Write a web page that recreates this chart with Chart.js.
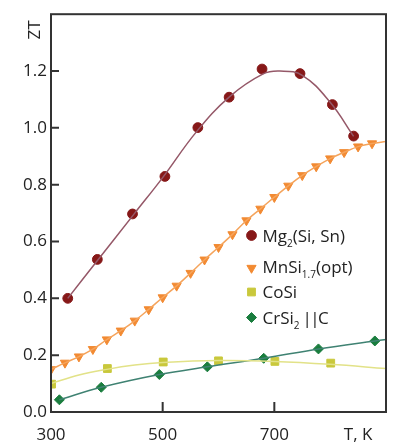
<!DOCTYPE html>
<html>
<head>
<meta charset="utf-8">
<script src="https://cdn.jsdelivr.net/npm/chart.js@4.4.1/dist/chart.umd.min.js"></script>
<style>
html, body { margin: 0; padding: 0; background: #fff; }
#wrap { width: 400px; height: 448px; }
</style>
</head>
<body>
<div id="wrap"><canvas id="zt-chart"></canvas></div>
<script>
// Mg2(Si, Sn): measured points and the fitted curve
const mgT = [330, 383, 446, 504, 563, 619, 678, 746, 804, 842];
const mgZT = [0.40, 0.537, 0.697, 0.829, 1.001, 1.108, 1.207, 1.191, 1.082, 0.971];
const mgFitT = [330, 380, 450, 500, 560, 620, 680, 710, 750, 800, 842];
const mgFitZT = [0.40, 0.525, 0.70, 0.825, 0.985, 1.11, 1.19, 1.20, 1.185, 1.09, 0.97];

// MnSi1.7 (opt)
const mnT = [300, 325, 350, 375, 400, 425, 450, 475, 500, 525, 550, 575,
             600, 625, 650, 675, 700, 725, 750, 775, 800, 825, 850, 875];
const mnZT = [0.150, 0.173, 0.195, 0.221, 0.255, 0.286, 0.321, 0.361, 0.403, 0.444, 0.489, 0.536,
              0.580, 0.625, 0.674, 0.715, 0.756, 0.796, 0.833, 0.864, 0.892, 0.914, 0.934, 0.945];
const mnFitT = mnT.concat([900]);
const mnFitZT = mnZT.concat([0.952]);

// CoSi
const coT = [301, 401, 501, 600, 701, 801];
const coZT = [0.098, 0.153, 0.176, 0.180, 0.178, 0.172];
const coFitT = [300, 350, 400, 450, 500, 600, 700, 800, 900];
const coFitZT = [0.100, 0.130, 0.150, 0.165, 0.174, 0.181, 0.178, 0.168, 0.153];

// CrSi2 ||C
const crT = [315, 390, 494, 580, 681, 779, 880];
const crZT = [0.043, 0.087, 0.132, 0.159, 0.189, 0.222, 0.250];
const crFitT = crT.concat([900]);
const crFitZT = crZT.concat([0.255]);

const legendLabels = ['Mg_2(Si, Sn)', 'MnSi_1.7(opt)', 'CoSi', 'CrSi_2 ||C'];
const xTicks = [300, 500, 700];
const xUnitTick = 850;
const xUnitLabel = 'T, K';
const yTicks = [0, 0.2, 0.4, 0.6, 0.8, 1.0, 1.2];
const yTitle = 'ZT';

const FONT = '"Open Sans", "DejaVu Sans", sans-serif';
const TEXT = '#222';

function pts(xs, ys) {
    return xs.map((x, i) => ({ x: x, y: ys[i] }));
}

function fitLine(xs, ys, color) {
    return {
        data: pts(xs, ys),
        showLine: true,
        pointRadius: 0,
        borderColor: color,
        borderWidth: 1.5,
        tension: 0.4,
        fill: false,
    };
}

function markers(xs, ys, color, style, radius, rotation, legendIndex) {
    return {
        data: pts(xs, ys),
        showLine: false,
        pointStyle: style,
        pointRadius: radius,
        pointRotation: rotation,
        pointBackgroundColor: color,
        pointBorderColor: color,
        pointBorderWidth: 1,
        legendIndex: legendIndex,
    };
}

// draw text with _sub parts as subscripts
function drawRich(ctx, text, x, baseline) {
    const parts = text.split(/_([0-9.]+)/);
    parts.forEach((p, i) => {
        if (!p) return;
        const sub = i % 2 === 1;
        ctx.font = (sub ? '10px ' : '17px ') + FONT;
        ctx.letterSpacing = p.includes('||') ? '-1.5px' : '0px';
        ctx.fillText(p, x, sub ? baseline + 5 : baseline);
        x += ctx.measureText(p).width;
    });
    ctx.letterSpacing = '0px';
}

const framePlugin = {
    id: 'frame',
    afterDraw(chart) {
        const ctx = chart.ctx;
        const a = chart.chartArea;
        const xs = chart.scales.x;
        const ys = chart.scales.y;
        ctx.save();
        ctx.strokeStyle = '#333';
        ctx.lineWidth = 2;
        ctx.strokeRect(a.left, a.top, a.right - a.left, a.bottom - a.top);
        ctx.beginPath();
        yTicks.forEach(v => {
            const y = ys.getPixelForValue(v);
            ctx.moveTo(a.left, y);
            ctx.lineTo(a.left + 8, y);
        });
        xTicks.forEach(v => {
            const x = xs.getPixelForValue(v);
            ctx.moveTo(x, a.bottom);
            ctx.lineTo(x, a.bottom - 10);
        });
        ctx.stroke();

        // axis title
        ctx.fillStyle = TEXT;
        ctx.font = '17px ' + FONT;
        ctx.translate(35, 30);
        ctx.rotate(-Math.PI / 2);
        ctx.textAlign = 'center';
        ctx.textBaseline = 'middle';
        ctx.fillText(yTitle, 0, 0);
        ctx.restore();
    },
};

const legendPlugin = {
    id: 'inlineLegend',
    afterDraw(chart) {
        const ctx = chart.ctx;
        const rowY = [235.5, 267, 292, 317.5];
        ctx.save();
        chart.data.datasets.forEach(ds => {
            if (ds.legendIndex === undefined) return;
            const i = ds.legendIndex;
            const y = rowY[i];
            ctx.fillStyle = ds.pointBackgroundColor;
            ctx.strokeStyle = ds.pointBorderColor;
            ctx.lineWidth = 1;
            Chart.helpers.drawPoint(ctx, {
                pointStyle: ds.pointStyle,
                radius: ds.pointRadius,
                rotation: ds.pointRotation,
                borderWidth: 1,
            }, 251.5, i === 1 ? y + 1 : y);
            ctx.fillStyle = TEXT;
            ctx.textAlign = 'left';
            ctx.textBaseline = 'alphabetic';
            drawRich(ctx, legendLabels[i], 262.5, y + 6);
        });
        ctx.restore();
    },
};

const ctx = document.getElementById('zt-chart');

new Chart(ctx, {
    type: 'scatter',
    data: {
        datasets: [
            fitLine(coFitT, coFitZT, '#e2e288'),
            fitLine(crFitT, crFitZT, '#3f8272'),
            fitLine(mnFitT, mnFitZT, '#f5a45c'),
            fitLine(mgFitT, mgFitZT, '#955868'),
            markers(coT, coZT, '#c9c83c', 'rect', 5.5, 0, 2),
            markers(crT, crZT, '#1a7d3e', 'rectRot', 5, 0, 3),
            markers(mnT, mnZT, '#f28a32', 'triangle', 5.3, 180, 1),
            markers(mgT, mgZT, '#861818', 'circle', 4.9, 0, 0),
        ],
    },
    options: {
        responsive: true,
        maintainAspectRatio: false,
        animation: false,
        layout: {
            padding: { top: 12, right: 14, left: 0, bottom: 0 },
        },
        plugins: {
            legend: { display: false },
            tooltip: { enabled: false },
        },
        scales: {
            x: {
                type: 'linear',
                min: 300,
                max: 900,
                afterBuildTicks: (s) => {
                    s.ticks = xTicks.concat([xUnitTick]).map(v => ({ value: v }));
                },
                afterFit: (s) => { s.height = 36; },
                grid: { display: false, drawTicks: false },
                border: { display: false },
                ticks: {
                    callback: (v) => (v === xUnitTick ? xUnitLabel : v),
                    font: { family: FONT, size: 17 },
                    color: TEXT,
                    padding: 13,
                    maxRotation: 0,
                    autoSkip: false,
                },
            },
            y: {
                min: 0,
                max: 1.4,
                afterBuildTicks: (s) => {
                    s.ticks = yTicks.map(v => ({ value: v }));
                },
                afterFit: (s) => { s.width = 51; },
                grid: { display: false, drawTicks: false },
                border: { display: false },
                ticks: {
                    callback: (v) => v.toFixed(1),
                    font: { family: FONT, size: 17 },
                    color: TEXT,
                    padding: 4,
                },
            },
        },
    },
    plugins: [framePlugin, legendPlugin],
});
</script>
</body>
</html>
